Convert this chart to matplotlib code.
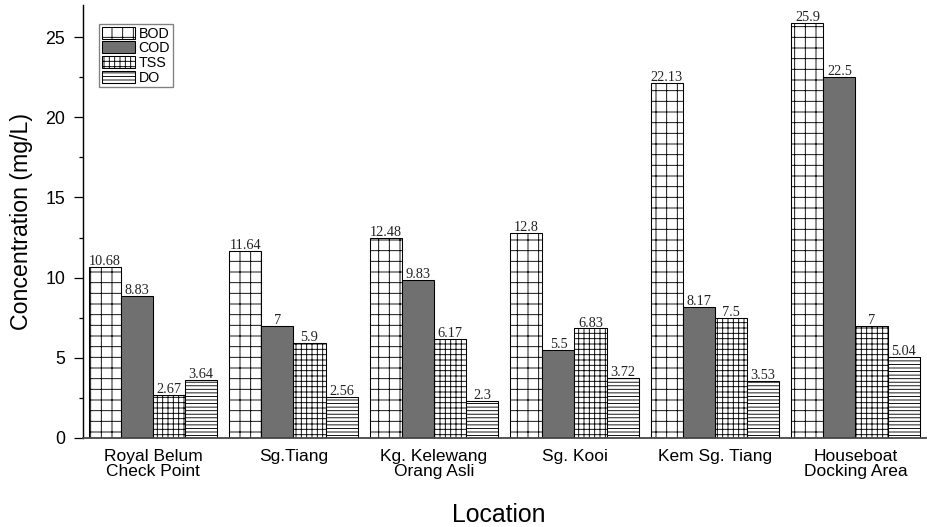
import matplotlib
matplotlib.use("Agg")
import matplotlib.pyplot as plt
import numpy as np
from matplotlib.ticker import MultipleLocator

locations = ["Royal Belum\nCheck Point", "Sg.Tiang", "Kg. Kelewang\nOrang Asli",
             "Sg. Kooi", "Kem Sg. Tiang", "Houseboat\nDocking Area"]
bod = [10.68, 11.64, 12.48, 12.8, 22.13, 25.9]
cod = [8.83, 7, 9.83, 5.5, 8.17, 22.5]
tss = [2.67, 5.9, 6.17, 6.83, 7.5, 7]
do = [3.64, 2.56, 2.3, 3.72, 3.53, 5.04]
series_names = ["BOD", "COD", "TSS", "DO"]

DPI = 64
plt.rcParams["hatch.linewidth"] = 1.0
sans = ["Liberation Sans", "DejaVu Sans"]
serif = ["Liberation Serif", "DejaVu Serif"]

fig = plt.figure(figsize=(927 / DPI, 527 / DPI), dpi=DPI)
ax = fig.add_axes([83 / 927, 1 - 438 / 527, 844 / 927, 433 / 527])

x = np.arange(len(locations))
w = 0.228
styles = [
    dict(facecolor="white", hatch="+"),
    dict(facecolor="#707070", hatch=None),
    dict(facecolor="white", hatch="++"),
    dict(facecolor="white", hatch="---"),
]
values = [bod, cod, tss, do]
for i, (vals, st, name) in enumerate(zip(values, styles, series_names)):
    pos = x + (i - 1.5) * w
    ax.bar(pos, vals, width=w, edgecolor="black", linewidth=1.2,
           label=name, zorder=2, **st)
    for xp, v in zip(pos, vals):
        ax.annotate(f"{v:g}", (xp, v), xytext=(0, 2.2), textcoords="offset points",
                    ha="center", va="baseline", fontsize=16, family=serif,
                    color="#222222")

ax.set_xlim(-0.498, 5.509)
ax.set_ylim(0, 27)
ax.set_xticks(x)
ax.set_xticklabels(locations, family=sans, fontsize=19.5, linespacing=1.05)
ax.tick_params(axis="x", length=0, pad=12)
ax.yaxis.set_major_locator(MultipleLocator(5))
ax.yaxis.set_minor_locator(MultipleLocator(2.5))
ax.tick_params(axis="y", which="major", direction="out", length=10, width=1.4,
               pad=10, labelsize=20)
ax.tick_params(axis="y", which="minor", direction="out", length=5, width=1.4)
for lab in ax.get_yticklabels():
    lab.set_family(sans)

for s in ("top", "right"):
    ax.spines[s].set_visible(False)
ax.spines["left"].set_linewidth(1.6)
ax.spines["bottom"].set_linewidth(2.0)
ax.spines["bottom"].set_color("#444444")

ax.set_ylabel("Concentration (mg/L)", family=sans, fontsize=26)
ax.yaxis.set_label_coords(-0.059, 0.5)
fig.text(499 / 927, 1 - 522 / 527, "Location", ha="center", va="baseline",
         family=sans, fontsize=28)

leg = ax.legend(loc="upper left", bbox_to_anchor=(99 / 927, 1 - 24 / 527),
                bbox_transform=fig.transFigure, prop=dict(family=sans, size=16),
                handlelength=2.32, handleheight=0.92, labelspacing=0.05,
                borderpad=0.18, handletextpad=0.28, borderaxespad=0,
                fancybox=False, edgecolor="#808080", framealpha=1)
leg.get_frame().set_linewidth(1.5)

fig.savefig("out.png", dpi=DPI)
